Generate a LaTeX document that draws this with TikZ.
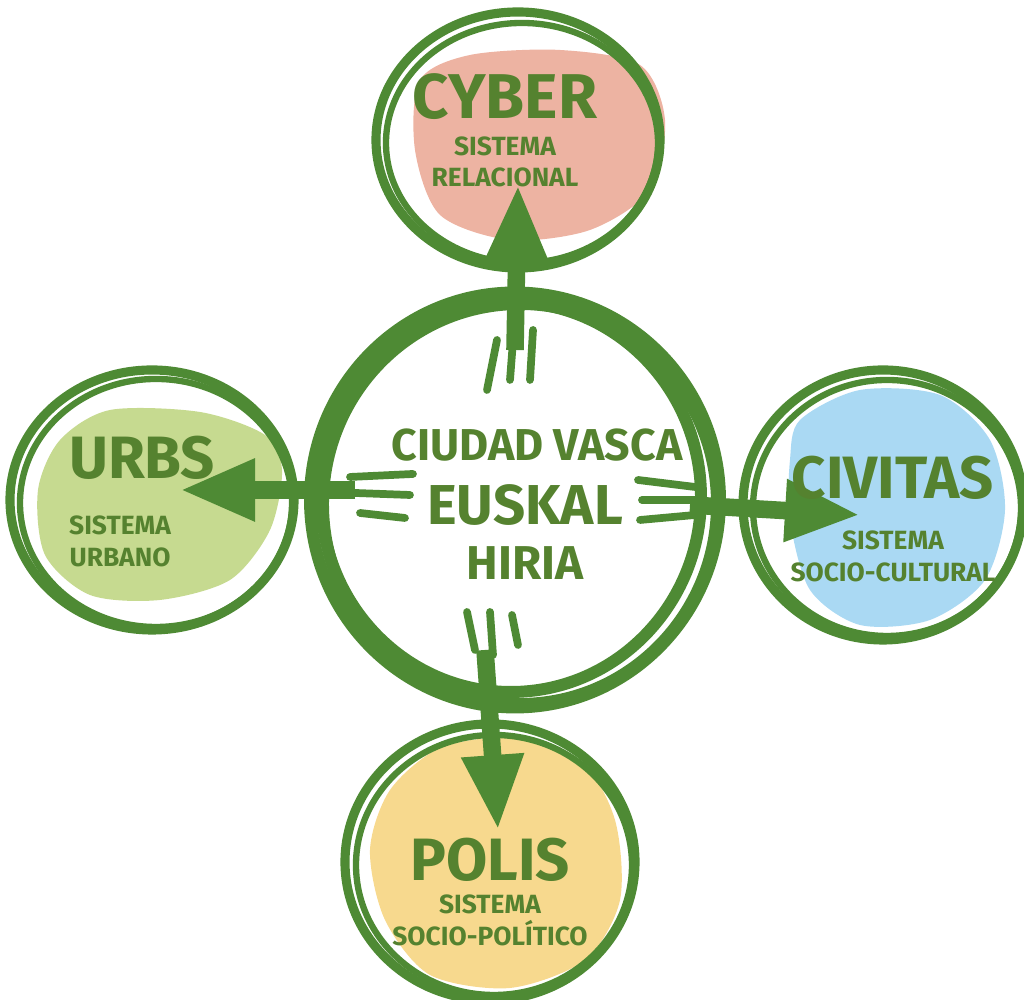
\documentclass[tikz,border=0pt]{standalone}
\usepackage{fontspec}
\setmainfont{Fira Sans}
\usetikzlibrary{arrows.meta,positioning,calc,shapes.geometric}
\definecolor{ringgreen}{HTML}{4E8A34}
\definecolor{inkgreen}{HTML}{55822F}
\definecolor{cyberpink}{HTML}{EDB3A2}
\definecolor{urbsgreen}{HTML}{C6DA90}
\definecolor{civitasblue}{HTML}{AAD9F3}
\definecolor{polisyellow}{HTML}{F7D98E}
\tikzset{
  ring/.style={draw=ringgreen, line width=2.6pt},
  hubring/.style={draw=ringgreen, line width=3.4pt},
  title/.style={text=inkgreen, font=\bfseries\fontsize{18}{18}\selectfont, inner sep=0pt},
  sub/.style={text=inkgreen, font=\bfseries\fontsize{7.5}{9}\selectfont, align=center, inner sep=0pt},
  flow/.style={draw=ringgreen, line width=5pt, -{Triangle[length=7.5mm,width=5.8mm]}},
  tick/.style={draw=ringgreen, line width=2.2pt, line cap=round}
}

\begin{document}
\begin{tikzpicture}
\useasboundingbox (0,0) rectangle (10.24,10);

%% coloured patches
\fill[cyberpink] plot[smooth cycle] coordinates {(4.2,9.2) (4.7,9.45) (5.6,9.5) (6.4,9.35) (6.65,8.8) (6.5,8.1) (5.9,7.7) (5.1,7.6) (4.4,7.85) (4.15,8.5)};
\fill[urbsgreen] plot[smooth cycle] coordinates {(0.6,5.6) (1.1,5.9) (2.0,5.88) (2.65,5.65) (2.82,5.3) (2.7,4.7) (2.3,4.2) (1.6,4.0) (0.9,4.05) (0.45,4.45) (0.38,5.1)};
\fill[civitasblue] plot[smooth cycle] coordinates {(8.0,5.8) (8.6,6.1) (9.4,6.05) (9.9,5.6) (10.05,4.9) (9.85,4.2) (9.3,3.8) (8.6,3.75) (8.1,4.1) (7.9,4.8) (7.9,5.4)};
\fill[polisyellow] plot[smooth cycle] coordinates {(3.9,2.1) (4.4,2.52) (5.1,2.62) (5.8,2.4) (6.15,1.8) (6.2,1.0) (5.85,0.4) (5.1,0.12) (4.3,0.25) (3.85,0.8) (3.7,1.5)};

%% rings
\node[ellipse, minimum width=4.1cm, minimum height=4.15cm, hubring] (hub) at (5.15,5.0) {};
\node[ellipse, minimum width=2.84cm, minimum height=2.56cm, ring] (cyber) at (5.18,8.6) {};
\node[ellipse, minimum width=2.84cm, minimum height=2.6cm, ring] (urbs) at (1.52,5.0) {};
\node[ellipse, minimum width=2.8cm, minimum height=2.7cm, ring] (civitas) at (8.83,4.95) {};
\node[ellipse, minimum width=2.9cm, minimum height=2.76cm, ring] (polis) at (4.9,1.38) {};

% extra hand strokes
\foreach \dx/\dy/\rx/\ry in {0.05/-0.04/1.97/2.0, -0.04/0.03/1.9/1.95}
  \draw[hubring] ($(hub.center)+(\dx,\dy)$) ellipse [x radius=\rx, y radius=\ry];
\foreach \n/\rx/\ry in {cyber/1.36/1.2, urbs/1.36/1.24, civitas/1.34/1.28, polis/1.38/1.3}
  \draw[ring, line width=1.8pt] ($(\n.center)+(0.04,-0.03)$) ellipse [x radius=\rx, y radius=\ry];

%% arrows
\draw[flow] ([yshift=1.5cm]hub.center) -- ([yshift=-0.45cm]cyber.center);
\draw[flow] ([xshift=-1.6cm,yshift=0.1cm]hub.center) -- ([xshift=0.28cm,yshift=0.1cm]urbs.center);
\draw[flow] ([xshift=1.75cm,yshift=-0.05cm]hub.center) -- ([xshift=-0.23cm,yshift=-0.1cm]civitas.center);
\draw[flow] ([xshift=-0.3cm,yshift=-1.5cm]hub.center) -- ([xshift=0.08cm,yshift=0.32cm]polis.center);

% short strokes
\draw[tick] (4.87,6.1) -- (4.97,6.6);
\draw[tick] (5.10,6.2) -- (5.14,6.72);
\draw[tick] (5.30,6.2) -- (5.33,6.7);
\draw[tick] (3.50,5.23) -- (4.13,5.26);
\draw[tick] (3.55,5.07) -- (4.10,5.05);
\draw[tick] (3.60,4.87) -- (4.05,4.82);
\draw[tick] (6.38,5.20) -- (6.95,5.13);
\draw[tick] (6.42,5.00) -- (7.00,5.00);
\draw[tick] (6.40,4.80) -- (6.95,4.85);
\draw[tick] (4.67,3.88) -- (4.75,3.50);
\draw[tick] (4.90,3.88) -- (4.93,3.45);
\draw[tick] (5.12,3.85) -- (5.18,3.55);

%% texts
\node[title] (cybertitle) at (5.05,9.03) {CYBER};
\node[sub, below=0.15cm of cybertitle] (cybersub) {SISTEMA\\RELACIONAL};
\node[title, font=\bfseries\fontsize{12.7}{13}\selectfont] (hubtop) at (5.37,5.55) {CIUDAD VASCA};
\node[title, font=\bfseries\fontsize{16}{17}\selectfont, below=0.22cm of hubtop, xshift=-0.12cm] (hubmid) {EUSKAL};
\node[title, font=\bfseries\fontsize{13.5}{14}\selectfont, below=0.2cm of hubmid] (hubbot) {HIRIA};
\node[title, font=\bfseries\fontsize{17}{17}\selectfont] (urbstitle) at (1.42,5.42) {URBS};
\node[sub, below=0.35cm of urbstitle.south west, anchor=north west] (urbssub) {SISTEMA\\URBANO};
\node[title, font=\bfseries\fontsize{17}{17}\selectfont] (civitastitle) at (8.93,5.22) {CIVITAS};
\node[sub, below=0.3cm of civitastitle] (civitassub) {SISTEMA\\SOCIO-CULTURAL};
\node[title, font=\bfseries\fontsize{17}{17}\selectfont] (polistitle) at (4.9,1.4) {POLIS};
\node[sub, below=0.12cm of polistitle] (polissub) {SISTEMA\\SOCIO-POLÍTICO};
\end{tikzpicture}
\end{document}
